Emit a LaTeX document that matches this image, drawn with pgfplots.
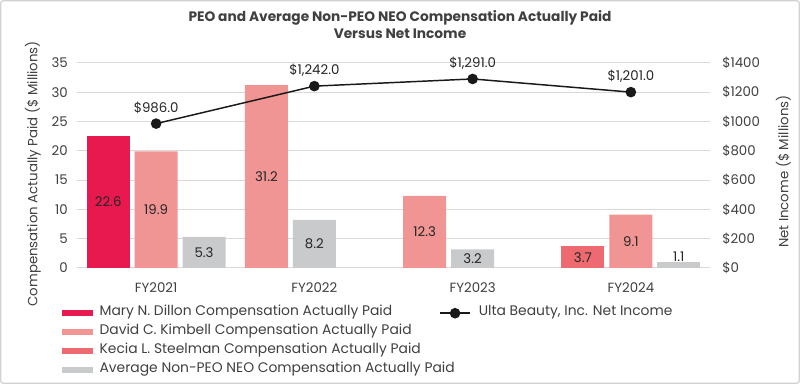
\documentclass[border=0pt]{standalone}
\usepackage{fontspec}
\setmainfont{Poppins}
\usepackage{pgfplots}
\pgfplotsset{compat=1.18}
\definecolor{dillon}{HTML}{E8194F}
\definecolor{kimbell}{HTML}{F09494}
\definecolor{steelman}{HTML}{EC6A70}
\definecolor{avgc}{HTML}{C9CACC}
\definecolor{txt}{HTML}{404040}
\definecolor{gridc}{HTML}{D9D9D9}
\begin{document}
\begin{tikzpicture}
\path[draw=gray!35, line width=1pt, rounded corners=2pt] (0.5pt,0.5pt) rectangle (599.5pt,287.5pt);
\node[font=\bfseries\fontsize{10.3}{12.75}\selectfont, align=center, text=txt] at (300pt,269.5pt) {PEO and Average Non-PEO NEO Compensation Actually Paid\\Versus Net Income};
\pgfplotsset{
  common/.style={
    at={(57.75pt,87pt)}, anchor=south west, scale only axis,
    width=474.75pt, height=153.75pt,
    xmin=-0.5, xmax=3.5,
    tick style={draw=none},
    /pgf/number format/assume math mode=true,
    tick label style={font=\fontsize{10}{12}\selectfont, text=txt},
    label style={font=\fontsize{10}{12}\selectfont, text=txt},
  }
}
\begin{axis}[common,
  ymin=0, ymax=35, ytick={0,5,...,35},
  xtick={0,1,2,3}, xticklabels={FY2021,FY2022,FY2023,FY2024},
  axis line style={draw=none},
  ymajorgrids, grid style={gridc, line width=0.75pt},
  yticklabel style={inner sep=0pt, xshift=-6.75pt},
  xticklabel style={inner sep=0pt, yshift=-6.5pt},
  ylabel={Compensation Actually Paid (\$ Millions)},
  every axis y label/.style={at={(-0.0695,0.46)}, rotate=90, anchor=center, font=\fontsize{10}{12}\selectfont, text=txt},
  ybar, bar width=0.272, bar shift=0pt,
  visualization depends on=rawy\as\rawy,
  nodes near coords,
  every node near coord/.append style={font=\fontsize{10}{12}\selectfont, text=black!85, anchor=center, shift={(axis direction cs:0,-\rawy/2)}},
  legend style={at={(-0.0237,-0.173)}, anchor=north west, draw=none, fill=none, inner sep=0pt,
    font=\fontsize{10.4}{12}\selectfont, text=txt,
    nodes={inner sep=0pt, text height=9pt, text depth=5.25pt, anchor=west},
    /tikz/every odd column/.append style={column sep=5pt}},
  legend cell align=left,
  legend image code/.code={\fill[#1] (0pt,-2.25pt) rectangle (23pt,2.25pt);},
]
\addplot[fill=dillon, draw=none] coordinates {(-0.303,22.6)};
\addlegendentry{Mary N. Dillon Compensation Actually Paid}
\addplot[fill=kimbell, draw=none] coordinates {(0,19.9) (0.697,31.2) (1.697,12.3) (3,9.1)};
\addlegendentry{David C. Kimbell Compensation Actually Paid}
\addplot[fill=steelman, draw=none] coordinates {(2.697,3.7)};
\addlegendentry{Kecia L. Steelman Compensation Actually Paid}
\addplot[fill=avgc, draw=none] coordinates {(0.303,5.3) (1,8.2) (2,3.2)};
\addlegendentry{Average Non-PEO NEO Compensation Actually Paid}
\addplot[fill=avgc, draw=none, forget plot,
  every node near coord/.style={font=\fontsize{10}{12}\selectfont, text=black!85, anchor=south, inner sep=0pt}]
  coordinates {(3.303,1.1)};
\end{axis}
\begin{axis}[common,
  ymin=0, ymax=1400, ytick={0,200,...,1400},
  axis x line=none, axis y line*=right, axis line style={draw=none},
  /pgf/number format/1000 sep={},
  yticklabel={\$\pgfmathprintnumber{\tick}},
  yticklabel style={inner sep=0pt, xshift=9pt, anchor=west},
  ylabel={Net Income (\$ Millions)},
  every axis y label/.style={at={(1.116,0.47)}, rotate=90, anchor=center, font=\fontsize{10}{12}\selectfont, text=txt},
  legend style={at={(0.572,-0.173)}, anchor=north west, draw=none, fill=none, inner sep=0pt,
    font=\fontsize{10.4}{12}\selectfont, text=txt,
    nodes={inner sep=0pt, text height=9pt, text depth=5.25pt, anchor=west},
    /tikz/every odd column/.append style={column sep=6pt}},
  legend image code/.code={\draw[#1, mark repeat=2, mark phase=2] plot coordinates {(0pt,0pt) (11.25pt,0pt) (22.5pt,0pt)};},
]
\addplot[black!90, line width=1.1pt, mark=*, mark size=3.4pt,
  nodes near coords={\$\pgfmathprintnumber[fixed,fixed zerofill,precision=1,1000 sep={,}]{\pgfplotspointmeta}},
  point meta=y,
  every node near coord/.append style={font=\fontsize{10}{12}\selectfont, text=black!85, anchor=base, inner sep=0pt, yshift=8.5pt}]
  coordinates {(0,986) (1,1242) (2,1291) (3,1201)};
\addlegendentry{Ulta Beauty, Inc. Net Income}
\end{axis}
\end{tikzpicture}
\end{document}
